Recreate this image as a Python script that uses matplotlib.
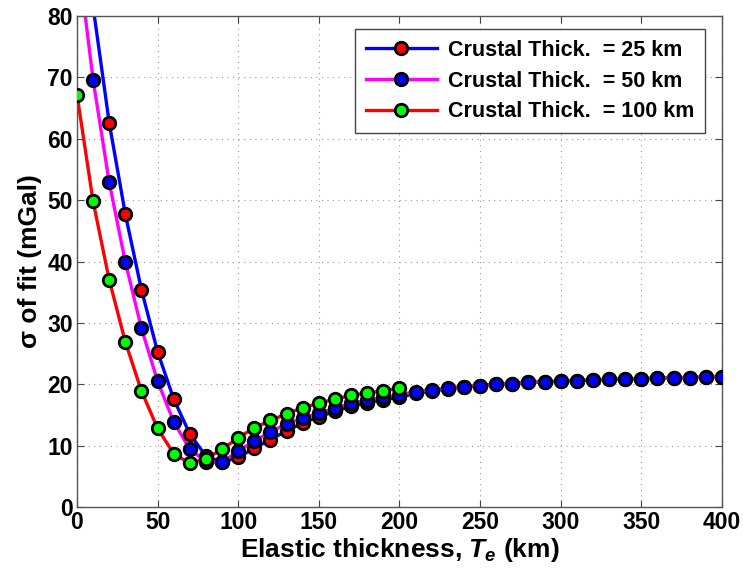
import numpy as np
import matplotlib
matplotlib.use("Agg")
import matplotlib.pyplot as plt

# ----------------------------
# Data
# ----------------------------
te = np.arange(0, 401, 10)          # elastic thickness, km
te_short = np.arange(0, 201, 10)    # 100 km series stops at 200 km

# crustal thickness = 25 km
sigma_25 = [99.0, 81.5, 62.6, 47.7, 35.4, 25.3, 17.6, 11.9, 8.3, 7.3,
            8.1, 9.6, 11.0, 12.4, 13.7, 14.7, 15.6, 16.4, 17.0, 17.5,
            17.9, 18.5, 18.9, 19.3, 19.5, 19.8, 20.0, 20.1, 20.3, 20.4,
            20.5, 20.6, 20.7, 20.8, 20.85, 20.9, 21.0, 21.05, 21.1, 21.15,
            21.2]

# crustal thickness = 50 km
sigma_50 = [91.0, 69.6, 52.9, 39.9, 29.1, 20.5, 13.9, 9.4, 7.4, 7.3,
            9.1, 10.8, 12.2, 13.6, 14.5, 15.3, 16.1, 16.9, 17.4, 17.9,
            18.3, 18.8, 19.1, 19.4, 19.6, 19.8, 20.0, 20.1, 20.3, 20.4,
            20.5, 20.6, 20.7, 20.8, 20.85, 20.9, 21.0, 21.05, 21.1, 21.15,
            21.2]

# crustal thickness = 100 km
sigma_100 = [67.2, 49.8, 37.0, 26.9, 18.9, 12.8, 8.7, 7.1, 7.9, 9.4,
             11.3, 12.9, 14.1, 15.2, 16.2, 16.9, 17.6, 18.2, 18.6, 18.9,
             19.4]

series = [
    (te, sigma_25, "blue", "red", "Crustal Thick.  = 25 km"),
    (te, sigma_50, "magenta", "blue", "Crustal Thick.  = 50 km"),
    (te_short, sigma_100, "red", "lime", "Crustal Thick.  = 100 km"),
]

y_max = 80

# ----------------------------
# Fonts
# ----------------------------
plt.rcParams["font.family"] = "Liberation Sans"
plt.rcParams["font.weight"] = "bold"
plt.rcParams["mathtext.fontset"] = "custom"
plt.rcParams["mathtext.it"] = "Liberation Sans:bold:italic"
plt.rcParams["mathtext.rm"] = "Liberation Sans:bold"

fig = plt.figure(figsize=(7.43, 5.71), dpi=100)
ax = fig.add_axes([0.1036, 0.112, 0.868, 0.860])

for x, y, line_c, face_c, label in series:
    x = np.asarray(x)
    y = np.asarray(y)
    # line through all points, markers only inside the y-range (like MATLAB)
    ax.plot(x, y, color=line_c, lw=2.4, zorder=2)
    inside = y <= y_max
    ax.plot(x[inside], y[inside], ls="none", marker="o", ms=9,
            mfc=face_c, mec="black", mew=2.0, zorder=3)
    # legend proxy
    ax.plot([], [], color=line_c, lw=2.4, marker="o", ms=9,
            mfc=face_c, mec="black", mew=2.0, label=label)

ax.set_xlim(0, 400)
ax.set_ylim(0, y_max)
ax.set_xticks(np.arange(0, 401, 50))
ax.set_yticks(np.arange(0, 81, 10))

ax.grid(True, ls=(0, (1, 4)), color="#999999", lw=0.8)
ax.tick_params(direction="in", top=True, right=True, labelsize=16.5,
               length=5, width=0.8, colors="#444444", labelcolor="black",
               pad=3)
for lab in ax.get_xticklabels() + ax.get_yticklabels():
    lab.set_fontweight("bold")
for sp in ax.spines.values():
    sp.set_color("#555555")
    sp.set_linewidth(1.0)

ax.set_xlabel(r"Elastic thickness, $T_e$ (km)", fontsize=19,
              fontweight="bold", labelpad=1)
ax.set_ylabel("σ of fit (mGal)", fontsize=19, fontweight="bold", labelpad=4)

leg = ax.legend(loc="upper right", fontsize=15.5, handlelength=3.3,
                borderpad=0.5, labelspacing=0.45, handletextpad=0.5,
                fancybox=False, framealpha=1, edgecolor="#444444",
                bbox_to_anchor=(0.99, 0.995))
leg.get_frame().set_linewidth(1.0)
for t in leg.get_texts():
    t.set_fontweight("bold")

fig.savefig("out.png", dpi=100)
